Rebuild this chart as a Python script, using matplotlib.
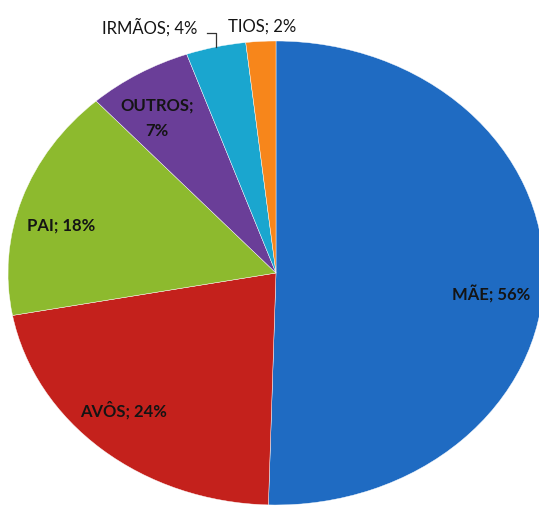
import matplotlib
matplotlib.use("Agg")
import matplotlib.pyplot as plt

categories = ["MÃE", "AVÔS", "PAI", "OUTROS", "IRMÃOS", "TIOS"]
values = [56, 24, 18, 7, 4, 2]
label_texts = ["MÃE; 56%", "AVÔS; 24%", "PAI; 18%", "OUTROS;\n7%", "IRMÃOS; 4%", "TIOS; 2%"]
colors = ["#1F6BC2", "#C4211C", "#8DBA2E", "#6A3E98", "#1AA6CF", "#F7861B"]

W, H = 539, 507
fig = plt.figure(figsize=(W / 100, H / 100), dpi=100)
fig.patch.set_facecolor("white")

# ellipse-shaped pie: center (276, 273) px, rx 268, ry 232
cx, cy, rx, ry = 276, 273, 268, 232
ax = fig.add_axes([(cx - rx) / W, (H - cy - ry) / H, 2 * rx / W, 2 * ry / H])
ax.pie(values, colors=colors, startangle=90, counterclock=False,
       wedgeprops=dict(edgecolor="white", linewidth=0.3))
ax.set_aspect("auto")
ax.set_xlim(-1, 1)
ax.set_ylim(-1, 1)
ax.axis("off")

font = "Lato"
tc = "#141414"
# (x_px, y_px, bold)
pos = [(491, 294, True), (124, 410, True), (61, 226, True), (157, 118, True),
       (150, 27, False), (262, 27, False)]
for txt, (x, y, b) in zip(label_texts, pos):
    fig.text(x / W, 1 - y / H, txt, ha="center", va="center", fontsize=12,
             fontweight="bold" if b else "normal", family=font, color=tc,
             linespacing=1.7)

# leader line for IRMÃOS
fig.add_artist(plt.Line2D([207 / W, 216 / W, 216 / W],
                          [1 - 33 / H, 1 - 33 / H, 1 - 47 / H],
                          color="#333333", linewidth=0.9))

fig.savefig("out.png", dpi=100)
